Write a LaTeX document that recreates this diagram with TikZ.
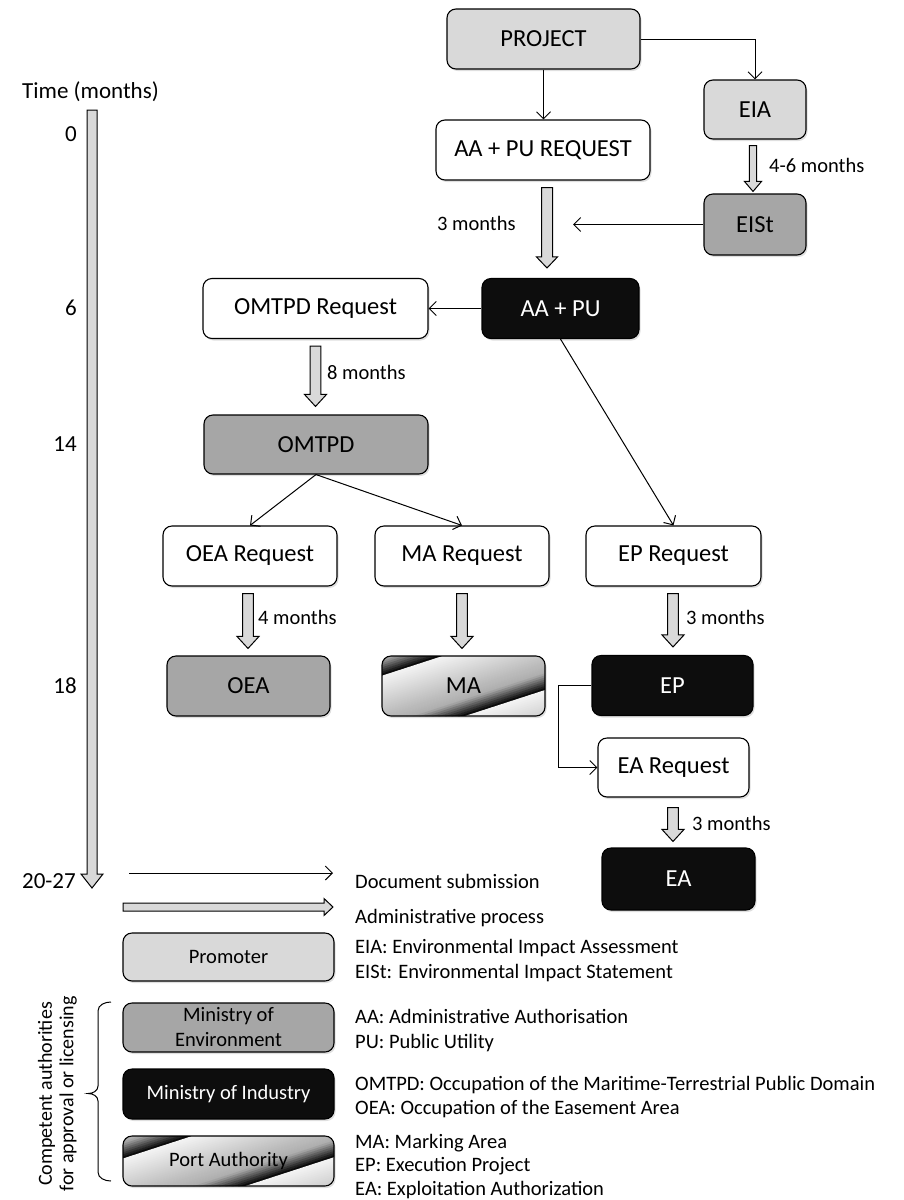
\documentclass[tikz,border=0pt]{standalone}
\usepackage{fontspec}
\setmainfont{Carlito}
\usetikzlibrary{arrows.meta,calc,shadows}

\definecolor{lg}{HTML}{D9D9D9}
\definecolor{dg}{HTML}{A6A6A6}
\definecolor{bk}{HTML}{0D0D0D}

\newcommand{\metalstripes}{%
  \coordinate (ppc) at (path picture bounding box.center);
  \foreach \e in {99,35,-29}{%
    \foreach \t in {0,2,...,62}{%
      \pgfmathsetmacro\mk{(\t+1)<20 ? 4+12*(\t+1)/20 : ((\t+1)<48 ? 16+16*(\t+1-20)/28 : ((\t+1)<58 ? 32+43*(\t+1-48)/10 : 75+25*(\t+1-58)/6))}%
      \pgfmathsetmacro\va{\e-\t}%
      \pgfmathsetmacro\vb{\e-\t-2.4}%
      \fill[black!\mk] ($(ppc)+(18:-200)+(108:\va)$) -- ($(ppc)+(18:200)+(108:\va)$)
        -- ($(ppc)+(18:200)+(108:\vb)$) -- ($(ppc)+(18:-200)+(108:\vb)$) -- cycle;
    }
  }}

\newcommand{\vblock}[5]{%
  \path[blockarr] let \p1=#1, \p2=#2 in
    (\x1-#3,\y1) -- (\x1+#3,\y1) -- (\x1+#3,\y2+#5) -- (\x1+#4,\y2+#5) -- (\x1,\y2)
    -- (\x1-#4,\y2+#5) -- (\x1-#3,\y2+#5) -- cycle;}

\newcommand{\hblock}[5]{%
  \path[blockarr] let \p1=#1, \p2=#2 in
    (\x1,\y1+#3) -- (\x1,\y1-#3) -- (\x2-#5,\y1-#3) -- (\x2-#5,\y1-#4) -- (\x2,\y1)
    -- (\x2-#5,\y1+#4) -- (\x2-#5,\y1+#3) -- cycle;}

\tikzset{
  box/.style={draw=black, line width=1.1pt, rounded corners=9pt, inner sep=0pt, align=center,
    font=\fontsize{24.5}{29}\selectfont,
    drop shadow={shadow xshift=1.5pt, shadow yshift=-2pt, opacity=0.25}},
  lbox/.style={box, font=\fontsize{20.5}{25}\selectfont, minimum width=211pt},
  prom/.style={fill=lg},
  envi/.style={fill=dg},
  indu/.style={fill=bk, text=white},
  port/.style={fill=white, path picture={\metalstripes}},
  req/.style={fill=white},
  conn/.style={line width=1pt, -{Straight Barb[length=7pt,width=14pt,line width=1pt]}},
  blockarr/.style={draw=black, line width=1pt, fill=lg},
  lab/.style={font=\fontsize{20.5}{24}\selectfont, inner sep=0pt},
  tl/.style={font=\fontsize{23}{27}\selectfont, inner sep=0pt},
}

\begin{document}
\begin{tikzpicture}[x=1pt,y=1pt]
\useasboundingbox (0,0) rectangle (903,-1200);

% ---------- flow boxes ----------
\node[box, prom, minimum width=193pt, minimum height=60pt] (project) at (543.5,-39) {PROJECT};
\node[box, prom, minimum width=102pt, minimum height=59pt] (eia) at (755,-109.5) {EIA};
\node[box, req, minimum width=214pt, minimum height=60pt] (aapureq) at (543,-150) {AA + PU REQUEST};
\node[box, envi, minimum width=102pt, minimum height=61pt] (eist) at (755,-224.5) {EISt};
\node[box, indu, minimum width=157pt, minimum height=60pt] (aapu) at (560.5,-308.5) {AA + PU};
\node[box, req, minimum width=225pt, minimum height=60pt] (omtpdreq) at (315.5,-308.5) {OMTPD Request};
\node[box, envi, minimum width=224pt, minimum height=59pt] (omtpd) at (316,-444.5) {OMTPD};
\node[box, req, minimum width=174pt, minimum height=60pt] (oeareq) at (250,-556) {OEA Request};
\node[box, req, minimum width=174pt, minimum height=60pt] (mareq) at (462,-556) {MA Request};
\node[box, req, minimum width=175pt, minimum height=60pt] (epreq) at (673.5,-556) {EP Request};
\node[box, envi, minimum width=163pt, minimum height=60pt] (oea) at (248.5,-686) {OEA};
\node[box, port, minimum width=163pt, minimum height=60pt] (ma) at (463.5,-686) {MA};
\node[box, indu, minimum width=161pt, minimum height=60pt] (ep) at (672.5,-685.5) {EP};
\node[box, req, minimum width=151pt, minimum height=59pt] (eareq) at (673.5,-767.5) {EA Request};
\node[box, indu, minimum width=153pt, minimum height=62pt] (ea) at (678.5,-879) {EA};

% ---------- document submission connectors ----------
\draw[conn] (project.south) -- (project.south |- aapureq.north);
\draw[conn] (project.east) -| (eia.north);
\coordinate (eistend) at (573,-224.5);
\draw[conn] (eist.west) -- (eistend);
\draw[conn] (aapu.west) -- (omtpdreq.east);
\draw[conn] (omtpd.south) -- (oeareq.north);
\draw[conn] (omtpd.south) -- (mareq.north);
\draw[conn] (aapu.south) -- (epreq.north);
\draw[conn] (ep.west) -- ++(-33,0) |- (eareq.west);

% ---------- administrative process arrows ----------
\vblock{($(eia.south)+(-2,-6)$)}{($(eist.north)+(0,2)$)}{3.7pt}{8.5pt}{10pt}
\vblock{($(aapureq.south)+(4,-7)$)}{($(aapu.north)+(0,10)$)}{5.5pt}{10.5pt}{11pt}
\vblock{($(omtpdreq.south)+(0,-7)$)}{($(omtpd.north)+(0,8)$)}{5.3pt}{11pt}{12pt}
\vblock{($(oeareq.south)+(-2,-7)$)}{($(oea.north)+(0,7)$)}{5.3pt}{11pt}{12pt}
\vblock{($(mareq.south)+(0,-7)$)}{($(ma.north)+(0,7)$)}{5.3pt}{11pt}{12pt}
\vblock{($(epreq.south)+(-0.5,-7)$)}{($(ep.north)+(0,8)$)}{5.3pt}{11pt}{12pt}
\vblock{($(eareq.south)+(-0.5,-10)$)}{($(ea.north)+(0,6)$)}{5.3pt}{11pt}{12pt}

% ---------- duration labels ----------
\node[lab, anchor=base west] (l46) at (769,-172) {4-6 months};
\node[lab, anchor=base west] (l3a) at (437,-230) {3 months};
\node[lab, anchor=base west] (l8) at (327,-379) {8 months};
\node[lab, anchor=base west] (l4) at (258,-624) {4 months};
\node[lab, anchor=base west] (l3b) at (686,-624) {3 months};
\node[lab, anchor=base west] (l3c) at (692,-830) {3 months};

% ---------- time axis ----------
\node[tl] (ttitle) at (90.5,-92) {Time (months)};
\coordinate (ttop) at (92,-110);
\coordinate (tbot) at (92,-888);
\vblock{(ttop)}{(tbot)}{5pt}{11pt}{14pt}
\node[tl, anchor=base east] (t0) at (77,-141) {0};
\node[tl, anchor=base east] (t6) at (77,-315) {6};
\node[tl, anchor=base east] (t14) at (77,-451) {14};
\node[tl, anchor=base east] (t18) at (77,-693) {18};
\node[tl, anchor=base east] (t2027) at (76,-888) {20-27};

% ---------- legend ----------
\coordinate (da) at (129,-873);
\coordinate (db) at (333,-873);
\draw[conn] (da) -- (db);
\coordinate (pa) at (123,-907);
\coordinate (pb) at (333,-907);
\hblock{(pa)}{(pb)}{4pt}{8.5pt}{9pt}
\node[lab, anchor=base west] (tdoc) at (355,-888) {Document submission};
\node[lab, anchor=base west] (tadm) at (355,-923) {Administrative process};

\node[lbox, prom, minimum height=48pt] (promoter) at (228.5,-957) {Promoter};
\node[lbox, envi, minimum height=49pt] (minenv) at (228.5,-1027.5) {Ministry of\\Environment};
\node[lbox, indu, minimum height=50pt] (minind) at (228.5,-1094) {Ministry of Industry};
\node[lbox, port, minimum height=50pt] (portauth) at (228.5,-1161) {Port Authority};

\draw[line width=1pt] (111,-1002) to[out=180,in=90] (98,-1011) -- (98,-1086)
  to[out=-90,in=0] (88,-1093.5) to[out=0,in=90] (98,-1101) -- (98,-1172)
  to[out=-90,in=180] (111,-1181);
\node[rotate=90, align=center, inner sep=0pt, font=\fontsize{20}{21.5}\selectfont] (comp) at (57.5,-1094)
  {Competent authorities\\for approval or licensing};

\node[lab, anchor=base west] (g1) at (355,-953) {EIA: Environmental Impact Assessment};
\node[lab, anchor=base west] (g2) at (355,-978) {EISt: Environmental Impact Statement};
\node[lab, anchor=base west] (g3) at (355,-1023) {AA: Administrative Authorisation};
\node[lab, anchor=base west] (g4) at (355,-1048) {PU: Public Utility};
\node[lab, anchor=base west] (g5) at (355,-1090) {OMTPD: Occupation of the Maritime-Terrestrial Public Domain};
\node[lab, anchor=base west] (g6) at (355,-1114) {OEA: Occupation of the Easement Area};
\node[lab, anchor=base west] (g7) at (355,-1148) {MA: Marking Area};
\node[lab, anchor=base west] (g8) at (355,-1171) {EP: Execution Project};
\node[lab, anchor=base west] (g9) at (355,-1195) {EA: Exploitation Authorization};
\end{tikzpicture}
\end{document}
